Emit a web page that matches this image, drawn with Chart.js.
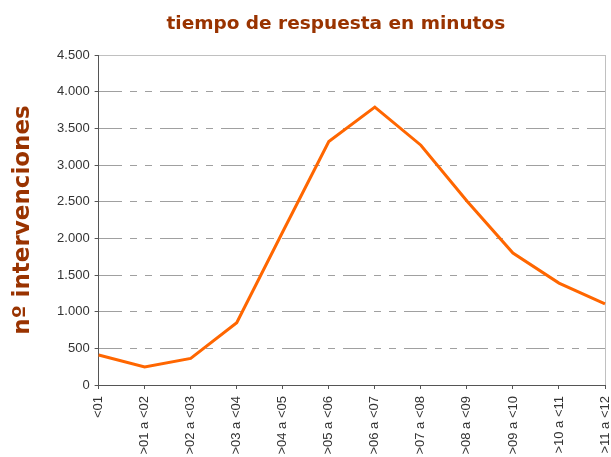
<!DOCTYPE html>
<html>
<head>
<meta charset="utf-8">
<script src="https://cdn.jsdelivr.net/npm/chart.js@4"></script>
<style>
  body { margin: 0; background: #fff; overflow: hidden; }
  #wrap { position: relative; width: 611px; height: 457px; }
</style>
</head>
<body>
<div id="wrap"><canvas id="lineChart"></canvas></div>
<script>
// categories and values
const tramos = ['<01', '>01 a <02', '>02 a <03', '>03 a <04', '>04 a <05', '>05 a <06',
    '>06 a <07', '>07 a <08', '>08 a <09', '>09 a <10', '>10 a <11', '>11 a <12']
const intervenciones = [410, 245, 363, 850, 2090, 3320, 3790, 3270, 2510, 1800, 1390, 1105]
const titulo = 'tiempo de respuesta en minutos'
const tituloEje = 'nº intervenciones'

const marron = '#993300'

// dots as thousands separator, 4.500
function miles(v) {
    return String(v).replace(/\B(?=(\d{3})+(?!\d))/g, '.')
}

// title centred a bit left of the plot, like the original
const tituloPlugin = {
    id: 'tituloPlugin',
    afterDraw(chart) {
        const ctx = chart.ctx
        const area = chart.chartArea
        ctx.save()
        ctx.font = 'bold 18.5px "DejaVu Sans"'
        ctx.fillStyle = marron
        ctx.textAlign = 'center'
        ctx.textBaseline = 'alphabetic'
        ctx.fillText(titulo, (area.left + area.right) / 2 - 16, 29)
        ctx.restore()
    }
}

const line = document.getElementById('lineChart')
const lineChart = new Chart(line, {
    type: 'line',
    data: {
        labels: tramos,
        datasets: [{
            label: tituloEje,
            data: intervenciones,
            borderColor: '#ff6600',
            backgroundColor: '#ff6600',
            borderWidth: 3,
            pointRadius: 0,
            tension: 0,
            fill: false
        }]
    },
    options: {
        responsive: true,
        maintainAspectRatio: false,
        animation: false,
        layout: { padding: { top: 55, left: 5, right: 0, bottom: 0 } },
        plugins: {
            legend: { display: false },
            title: { display: false },
            tooltip: { enabled: false }
        },
        scales: {
            x: {
                offset: false,
                // labels run to the bottom edge, plot reaches nearly the right edge
                afterFit: s => {
                    s.height = 72
                    s.paddingRight = 6
                    s.paddingLeft = 0
                },
                grid: {
                    color: c => c.index === tramos.length - 1 ? '#c0c0c0' : 'rgba(0,0,0,0)',
                    tickColor: '#555',
                    tickLength: 4,
                    drawTicks: true
                },
                border: { color: '#555', width: 1 },
                ticks: {
                    autoSkip: false,
                    maxRotation: 90,
                    minRotation: 90,
                    padding: 7,
                    color: '#333',
                    font: { family: '"Liberation Sans", Arial', size: 13 }
                }
            },
            y: {
                min: 0,
                max: 4500,
                grid: {
                    color: c => c.tick && c.tick.value === 4500 ? '#c0c0c0' : '#a0a0a0',
                    tickColor: '#555',
                    tickLength: 4,
                    tickBorderDash: []
                },
                border: {
                    color: '#555',
                    width: 1,
                    dash: c => c.tick && c.tick.value === 4500 ? [] : [23, 8, 7, 8, 7, 8]
                },
                ticks: {
                    stepSize: 500,
                    padding: 5,
                    color: '#333',
                    font: { family: '"Liberation Sans", Arial', size: 13 },
                    callback: v => miles(v)
                },
                title: {
                    display: true,
                    text: tituloEje,
                    color: marron,
                    padding: { top: 4, bottom: 15.5 },
                    font: { family: '"DejaVu Sans"', size: 23, weight: 'bold' }
                }
            }
        }
    },
    plugins: [tituloPlugin]
})
</script>
</body>
</html>
